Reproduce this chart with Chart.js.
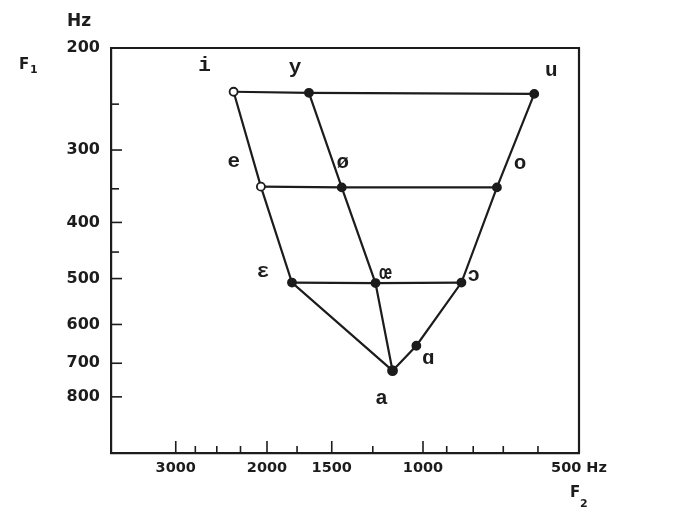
<!DOCTYPE html>
<html>
<head>
<meta charset="utf-8">
<script src="https://cdn.jsdelivr.net/npm/chart.js@4.4.0/dist/chart.umd.min.js"></script>
<style>
  html, body { margin: 0; padding: 0; background: #fff; }
  #wrap { width: 687px; height: 524px; }
</style>
</head>
<body>
<div id="wrap"><canvas id="vowels" width="687" height="524"></canvas></div>
<script>
// oral vowels, formants in Hz
const vowels = ["i", "y", "u", "e", "ø", "o", "ɛ", "œ", "ɔ", "ɑ", "a"];
const f1 = [238, 239, 240, 347, 348, 348, 508, 509, 508, 653, 721];
const f2 = [2320, 1660, 610, 2055, 1435, 720, 1790, 1235, 843, 1030, 1145];
const openVowels = ["i", "e"];

// the grid lines, by vowel name
const rows = [["i", "y", "u"], ["e", "ø", "o"], ["ɛ", "œ", "ɔ"]];
const columns = [["i", "e", "ɛ", "a"], ["y", "ø", "œ", "a"], ["u", "o", "ɔ", "ɑ", "a"]];

const f2Ticks = [3000, 2750, 2500, 2250, 2000, 1750, 1500, 1250, 1000, 900, 800, 700, 600, 500];
const f2Labels = [3000, 2000, 1500, 1000, 500];
const f1Ticks = [200, 250, 300, 350, 400, 450, 500, 600, 700, 800];
const f1Labels = [200, 300, 400, 500, 600, 700, 800];

const ink = "#1c1c1c";

// where each vowel symbol sits, relative to its point (px)
const labelShift = {
  "i": [-29, -26], "y": [-14, -25], "u": [17, -23],
  "e": [-27, -25], "ø": [1, -25], "o": [23, -24],
  "ɛ": [-29, -11], "œ": [10, -9], "ɔ": [12, -7],
  "ɑ": [12, 13], "a": [-11, 28]
};

function pointOf(v) {
  const i = vowels.indexOf(v);
  return { x: f2[i], y: f1[i] };
}

const lineSets = rows.concat(columns).map(path => ({
  type: "line",
  data: path.map(pointOf),
  borderColor: ink,
  borderWidth: 2.2,
  pointRadius: 0,
  fill: false,
  tension: 0
}));

const pointSet = {
  type: "scatter",
  data: vowels.map(pointOf),
  pointRadius: vowels.map(v => v === "a" ? 4.5 : 4),
  pointBorderWidth: 1.8,
  pointBorderColor: ink,
  pointBackgroundColor: vowels.map(v => openVowels.includes(v) ? "#fff" : ink),
  showLine: false
};

const extras = {
  id: "extras",
  afterDatasetsDraw(chart) {
    const { ctx, chartArea: a, scales: { x, y } } = chart;
    ctx.save();
    ctx.strokeStyle = ink;
    ctx.lineWidth = 2.2;
    ctx.beginPath();
    ctx.moveTo(a.left, a.top);
    ctx.lineTo(a.right, a.top);
    ctx.lineTo(a.right, a.bottom);
    ctx.stroke();

    // inward tick marks
    ctx.lineWidth = 1.6;
    f1Ticks.forEach(v => {
      const py = y.getPixelForValue(v);
      if (Math.abs(py - a.top) < 2) return;
      const len = f1Labels.includes(v) ? 11 : 8;
      ctx.beginPath();
      ctx.moveTo(a.left, py);
      ctx.lineTo(a.left + len, py);
      ctx.stroke();
    });
    f2Ticks.forEach(v => {
      const px = x.getPixelForValue(v);
      if (Math.abs(px - a.right) < 2) return;
      const len = f2Labels.includes(v) ? 12 : 7;
      ctx.beginPath();
      ctx.moveTo(px, a.bottom);
      ctx.lineTo(px, a.bottom - len);
      ctx.stroke();
    });

    // vowel symbols
    ctx.fillStyle = ink;
    ctx.font = "bold 21px 'Liberation Mono', 'DejaVu Sans Mono', monospace";
    ctx.textAlign = "center";
    ctx.textBaseline = "middle";
    vowels.forEach((v, i) => {
      const px = x.getPixelForValue(f2[i]);
      const py = y.getPixelForValue(f1[i]);
      const [dx, dy] = labelShift[v];
      ctx.fillText(v, px + dx, py + dy);
    });

    // axis titles
    ctx.font = "bold 17px 'DejaVu Sans'";
    ctx.fillText("Hz", 79, 22);
    ctx.textAlign = "left";
    ctx.textBaseline = "alphabetic";
    ctx.font = "bold 15px 'DejaVu Sans'";
    ctx.fillText("F", 19, 69);
    ctx.fillText("F", 570, 497);
    ctx.font = "bold 11px 'DejaVu Sans'";
    ctx.fillText("1", 30, 73);
    ctx.fillText("2", 580, 507);
    ctx.restore();
  }
};

new Chart(document.getElementById("vowels"), {
  data: { datasets: [pointSet].concat(lineSets) },
  options: {
    responsive: false,
    animation: false,
    layout: { padding: { left: 51, top: 48, right: 108, bottom: 41 } },
    plugins: { legend: { display: false }, tooltip: { enabled: false } },
    scales: {
      x: {
        type: "logarithmic",
        min: 500,
        max: 4000,
        reverse: true,
        grid: { display: false, drawTicks: false },
        border: { display: true, color: ink, width: 2.2 },
        afterBuildTicks: s => { s.ticks = f2Ticks.map(v => ({ value: v })); },
        afterFit: s => { s.height = 30; },
        ticks: {
          autoSkip: false,
          maxRotation: 0,
          padding: 7,
          color: ink,
          font: { family: "DejaVu Sans", size: 14.5, weight: "bold" },
          callback: v => v === 500 ? "500 Hz" : (f2Labels.includes(v) ? String(v) : "")
        }
      },
      y: {
        type: "logarithmic",
        min: 200,
        max: 1000,
        reverse: true,
        grid: { display: false, drawTicks: false },
        border: { display: true, color: ink, width: 2.2 },
        afterBuildTicks: s => { s.ticks = f1Ticks.map(v => ({ value: v })); },
        afterFit: s => { s.width = 60; },
        ticks: {
          autoSkip: false,
          padding: 11,
          color: ink,
          font: { family: "DejaVu Sans", size: 16, weight: "bold" },
          callback: v => f1Labels.includes(v) ? String(v) : ""
        }
      }
    }
  },
  plugins: [extras]
});
</script>
</body>
</html>
